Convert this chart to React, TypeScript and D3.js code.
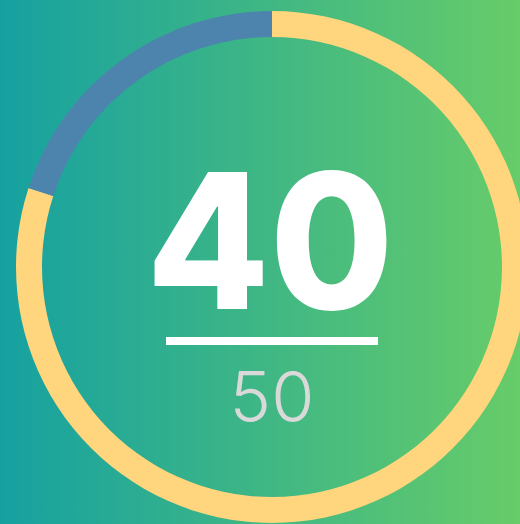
import React from "react";
import * as d3 from "d3";

const segmentLabels = ["value", "remaining"];
const currentValue = 40;
const maxValue = 50;
const segmentValues = [currentValue, maxValue - currentValue];
const segmentColors = ["#ffd57d", "#4c84ae"];

const W = 520;
const H = 524;

export default function App() {
  const cx = 272;
  const cy = 267;
  const outerR = 256;
  const innerR = 230;

  const pie = d3.pie<number>().sort(null).value((d) => d);
  const arcs = pie(segmentValues);
  const arcGen = d3.arc<d3.PieArcDatum<number>>().innerRadius(innerR).outerRadius(outerR);

  return (
    <svg
      width={W}
      height={H}
      viewBox={`0 0 ${W} ${H}`}
      style={{ position: "absolute", left: 0, top: 0, display: "block" }}
    >
      <defs>
        <linearGradient id="bg" x1="0" y1="0" x2="1" y2="0">
          <stop offset="0%" stopColor="#16a1a1" />
          <stop offset="100%" stopColor="#67cc69" />
        </linearGradient>
      </defs>
      <rect x={0} y={0} width={W} height={H} fill="url(#bg)" />
      <g transform={`translate(${cx},${cy})`}>
        {arcs.map((a, i) => (
          <path key={segmentLabels[i]} d={arcGen(a) || ""} fill={segmentColors[i]} />
        ))}
      </g>
      <text
        x={cx - 2}
        y={309}
        textAnchor="middle"
        fill="#ffffff"
        fontFamily="Inter, 'Open Sans', sans-serif"
        fontWeight={800}
        fontSize={188}
        textLength={247}
        lengthAdjust="spacingAndGlyphs"
      >
        {String(currentValue)}
      </text>
      <rect x={166} y={337} width={212} height={8} fill="#ffffff" />
      <text
        x={cx}
        y={422}
        textAnchor="middle"
        fill="#d9d9d9"
        fontFamily="Inter, 'Open Sans', sans-serif"
        fontWeight={300}
        fontSize={70}
      >
        {String(maxValue)}
      </text>
    </svg>
  );
}
